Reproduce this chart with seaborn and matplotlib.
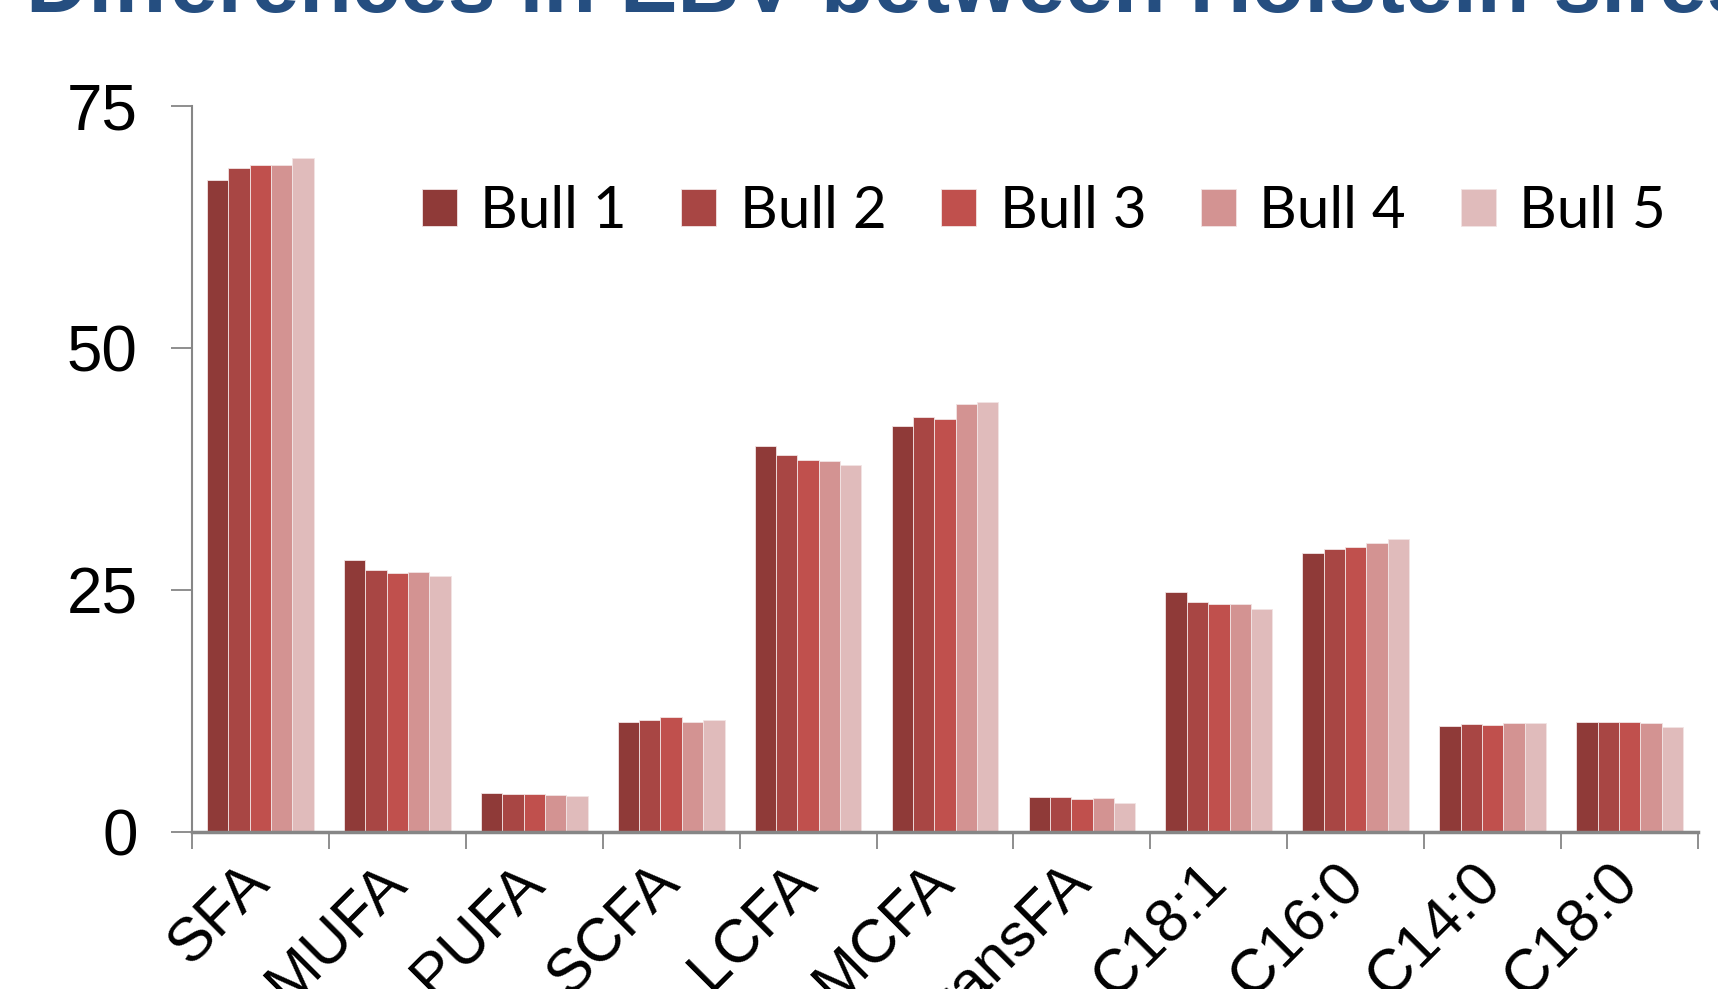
import numpy as np
import pandas as pd
import matplotlib
matplotlib.use("Agg")
import matplotlib.pyplot as plt
import seaborn as sns

# data
traits = ["SFA", "MUFA", "PUFA", "SCFA", "LCFA", "MCFA", "TransFA",
          "C18:1", "C16:0", "C14:0", "C18:0"]
bull1 = [67.4, 28.1, 4.06, 11.4, 39.85, 41.97, 3.60, 24.8, 28.8, 10.9, 11.33]
bull2 = [68.6, 27.1, 3.93, 11.6, 38.9, 42.84, 3.60, 23.73, 29.2, 11.15, 11.37]
bull3 = [68.9, 26.8, 3.90, 11.86, 38.4, 42.67, 3.44, 23.55, 29.4, 11.0, 11.33]
bull4 = [68.9, 26.9, 3.85, 11.4, 38.3, 44.18, 3.50, 23.5, 29.9, 11.26, 11.23]
bull5 = [69.6, 26.4, 3.69, 11.53, 37.95, 44.39, 3.03, 23.07, 30.27, 11.26, 10.85]
bulls = ["Bull 1", "Bull 2", "Bull 3", "Bull 4", "Bull 5"]
colors = ["#8F3A38", "#A84644", "#C0504D", "#D39392", "#E0BBBB"]
title = "Differences in EBV between Holstein sires"

rows = []
for name, vals in zip(bulls, [bull1, bull2, bull3, bull4, bull5]):
    for t, v in zip(traits, vals):
        rows.append({"trait": t, "bull": name, "value": v})
df = pd.DataFrame(rows)

sns.set_style("white")
plt.rcParams["font.family"] = ["Liberation Sans", "DejaVu Sans"]
plt.rcParams["text.color"] = "black"
plt.rcParams["xtick.labelcolor"] = "black"
plt.rcParams["ytick.labelcolor"] = "black"

fig = plt.figure(figsize=(17.18, 9.89), dpi=100)
ax = fig.add_axes([0.1117, 0.1588, 0.8767, 0.734])

sns.barplot(data=df, x="trait", y="value", hue="bull", palette=colors,
            width=0.78, gap=0, edgecolor="#F2E4E4", linewidth=0.6,
            saturation=1, ax=ax, legend=True)

ax.set_ylim(0, 75)
ax.set_xlim(-0.5, len(traits) - 0.5)
ax.set_yticks([0, 25, 50, 75])
ax.set_xlabel("")
ax.set_ylabel("")

# ticks on category boundaries, labels at centres
ax.set_xticks(np.arange(-0.5, len(traits)), minor=False)
ax.set_xticklabels([])
ax.set_xticks(np.arange(len(traits)), minor=True)
ax.set_xticklabels(traits, minor=True, rotation=45, ha="right", va="center",
                   rotation_mode="anchor", fontsize=44)
ax.tick_params(axis="x", which="minor", length=0, pad=30)
ax.tick_params(axis="x", which="major", length=12, width=1.3,
               color="#868686", direction="out")
ax.tick_params(axis="y", length=15, width=1.3, color="#868686",
               direction="out", labelsize=46, pad=24)
ax.tick_params(bottom=True, left=True, which="both")

for s in ["top", "right"]:
    ax.spines[s].set_visible(False)
for s in ["left", "bottom"]:
    ax.spines[s].set_color("#868686")
    ax.spines[s].set_linewidth(1.5)
ax.spines["bottom"].set_linewidth(2.5)

ax.legend(loc="center left", bbox_to_anchor=(0.137, 0.855), ncol=5,
          frameon=False, prop={"family": "Lato", "size": 42},
          handlelength=0.6, handleheight=0.6, handletextpad=0.4,
          columnspacing=0.94, borderaxespad=0)

fig.text(0.015, 0.988, title, fontsize=62, fontweight="bold",
         color="#254E80", va="baseline", ha="left")

fig.savefig("out.png", dpi=100)
